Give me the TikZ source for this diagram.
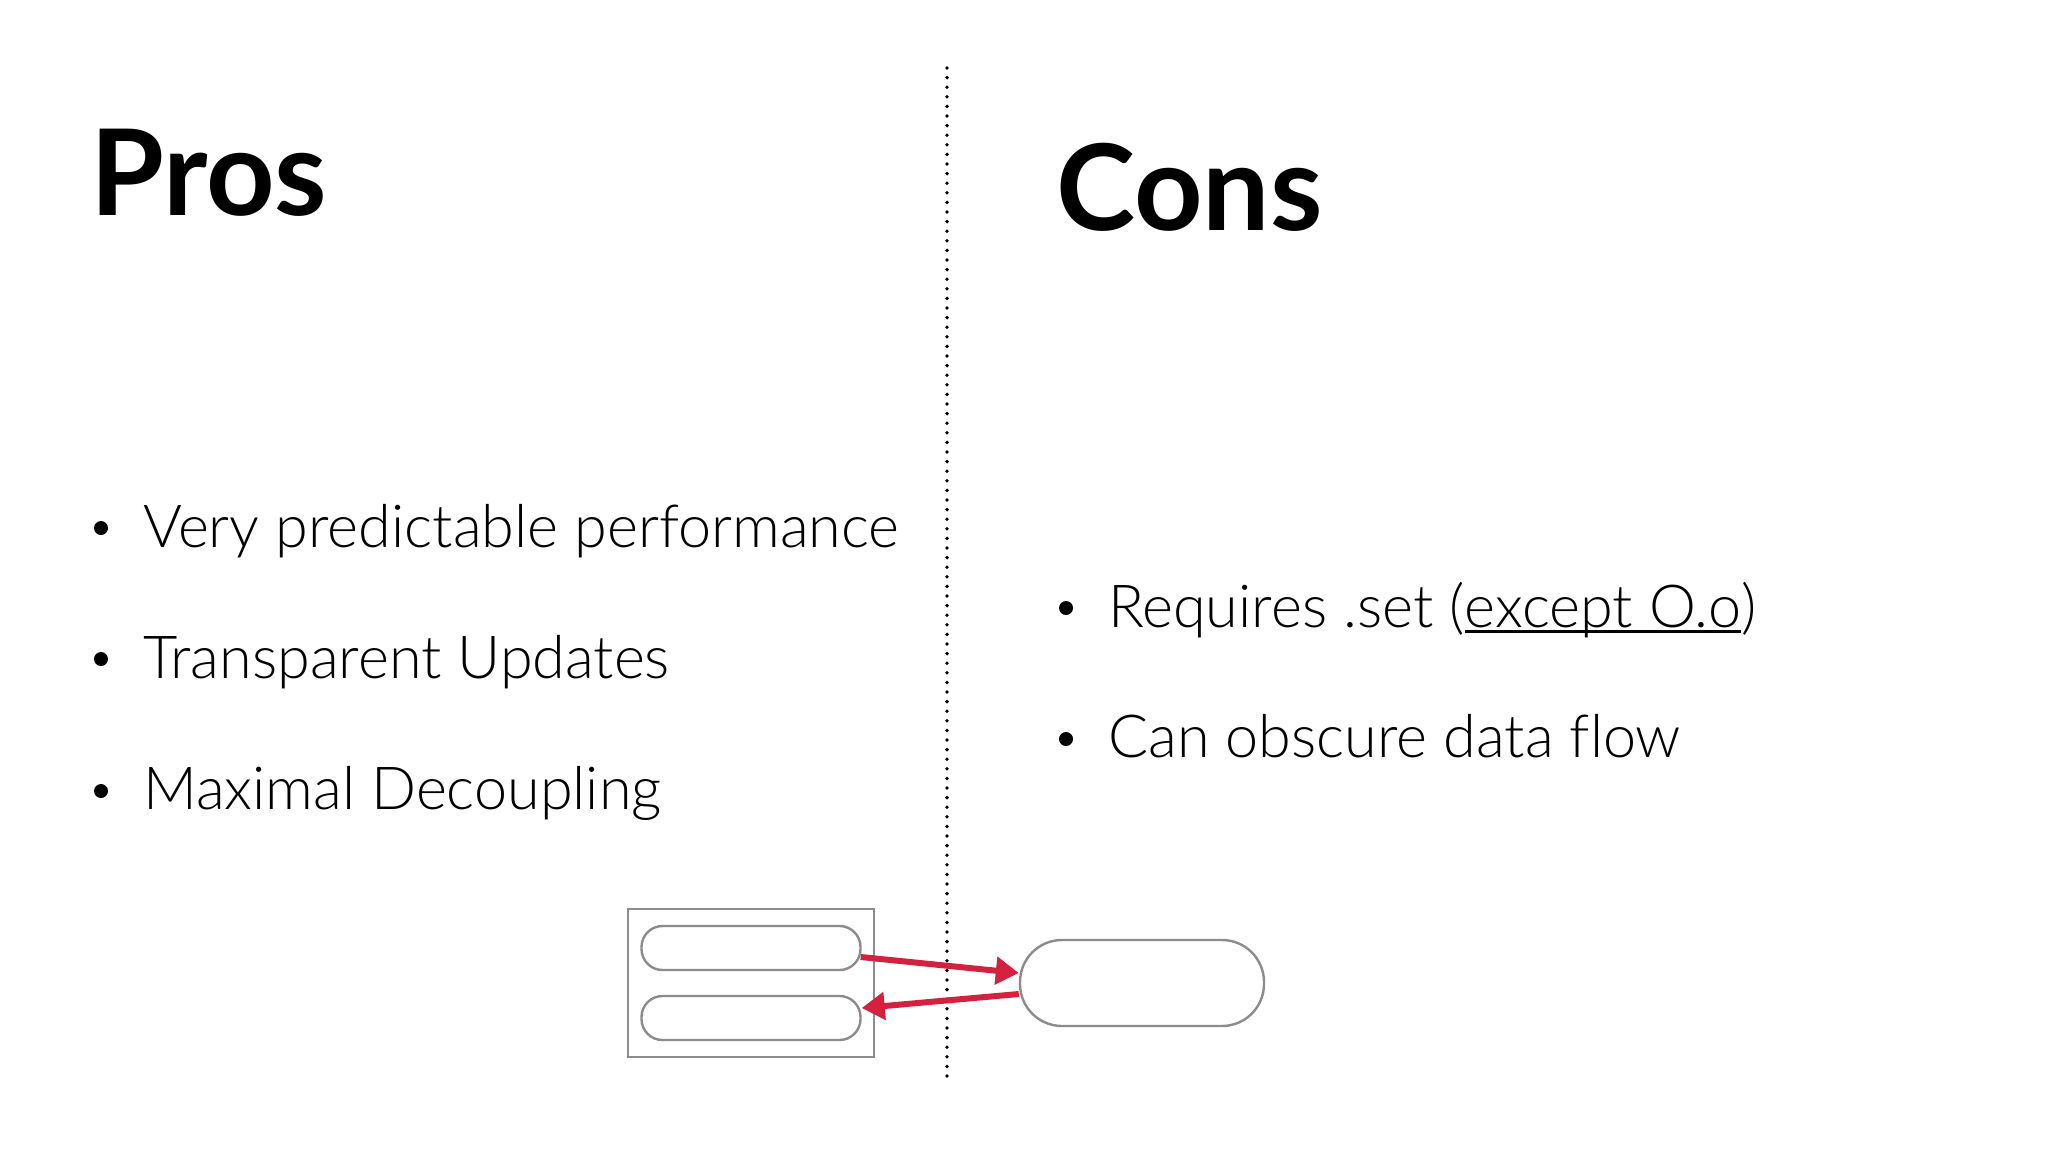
\documentclass[tikz,border=0pt]{standalone}
\usepackage{fontspec}
\usetikzlibrary{arrows.meta,calc}
\setmainfont{Lato}
\newfontfamily\headf{Lato Bold}
\newfontfamily\bodyf[Ligatures=NoCommon]{Lato Light}
\newcommand\ulin[1]{\setbox0=\hbox{#1}\rlap{\rule[-6pt]{\wd0}{2.8pt}}\box0}
\definecolor{boxgray}{HTML}{8C8C8C}
\definecolor{arrowred}{HTML}{D4213F}
\tikzset{
  x=1pt,y=-1pt,
  head/.style={anchor=base west,inner sep=0pt,font=\headf\fontsize{119.5}{119.5}\selectfont,text=black},
  item/.style={anchor=base west,inner sep=0pt,font=\bodyf\fontsize{59.3}{59.3}\selectfont,text=black},
  dot/.style={circle,fill=black,inner sep=0pt,minimum size=14pt},
  outerbox/.style={draw=boxgray,line width=2.4pt,fill=white,inner sep=0pt,minimum width=246pt,minimum height=148pt},
  smallpill/.style={draw=boxgray,line width=2.4pt,rounded corners=21pt,fill=white,inner sep=0pt,minimum width=219pt,minimum height=44pt},
  bigpill/.style={draw=boxgray,line width=2.4pt,rounded corners=42pt,fill=white,inner sep=0pt,minimum width=244pt,minimum height=86pt},
  flow/.style={draw=arrowred,line width=6pt,-{Triangle[length=23pt,width=27pt]}}
}
\begin{document}
\begin{tikzpicture}
\useasboundingbox (0,0) rectangle (2048,1152);
\fill[white] (0,0) rectangle (2048,1152);
\coordinate (dtop) at (947,68);
\coordinate (dbot) at (947,1084);
\draw[line width=3.8pt,line cap=round,dash pattern=on 0pt off 9.6pt] (dtop) -- (dbot);
\node[head] (pros) at (90,215) {Pros};
\node[head] (cons) at (1056,230) {Cons};
\node[dot] (b1) at (101,528) {};
\node[dot] (b2) at (101,659) {};
\node[dot] (b3) at (101,791) {};
\node[dot] (b4) at (1066,608) {};
\node[dot] (b5) at (1066,739) {};
\node[item] (t1) at (143,547) {Very predictable performance};
\node[item] (t2) at (143,678) {Transparent Updates};
\node[item] (t3) at (143,809) {Maximal Decoupling};
\node[item] (t4) at (1108,627) {Requires .set (\ulin{except O.o})};
\node[item] (t5) at (1108,757) {Can obscure data flow};
\node[outerbox] (outer) at (751,983) {};
\node[smallpill] (p1) at (751,948) {};
\node[smallpill] (p2) at (751,1018) {};
\node[bigpill] (big) at (1142,983) {};
\draw[flow] ($(p1.east)+(-1,9)$) -- ($(big.west)+(0,-10)$);
\draw[flow] ($(big.west)+(0,11)$) -- ($(p2.east)+(0,-10)$);
\end{tikzpicture}
\end{document}
